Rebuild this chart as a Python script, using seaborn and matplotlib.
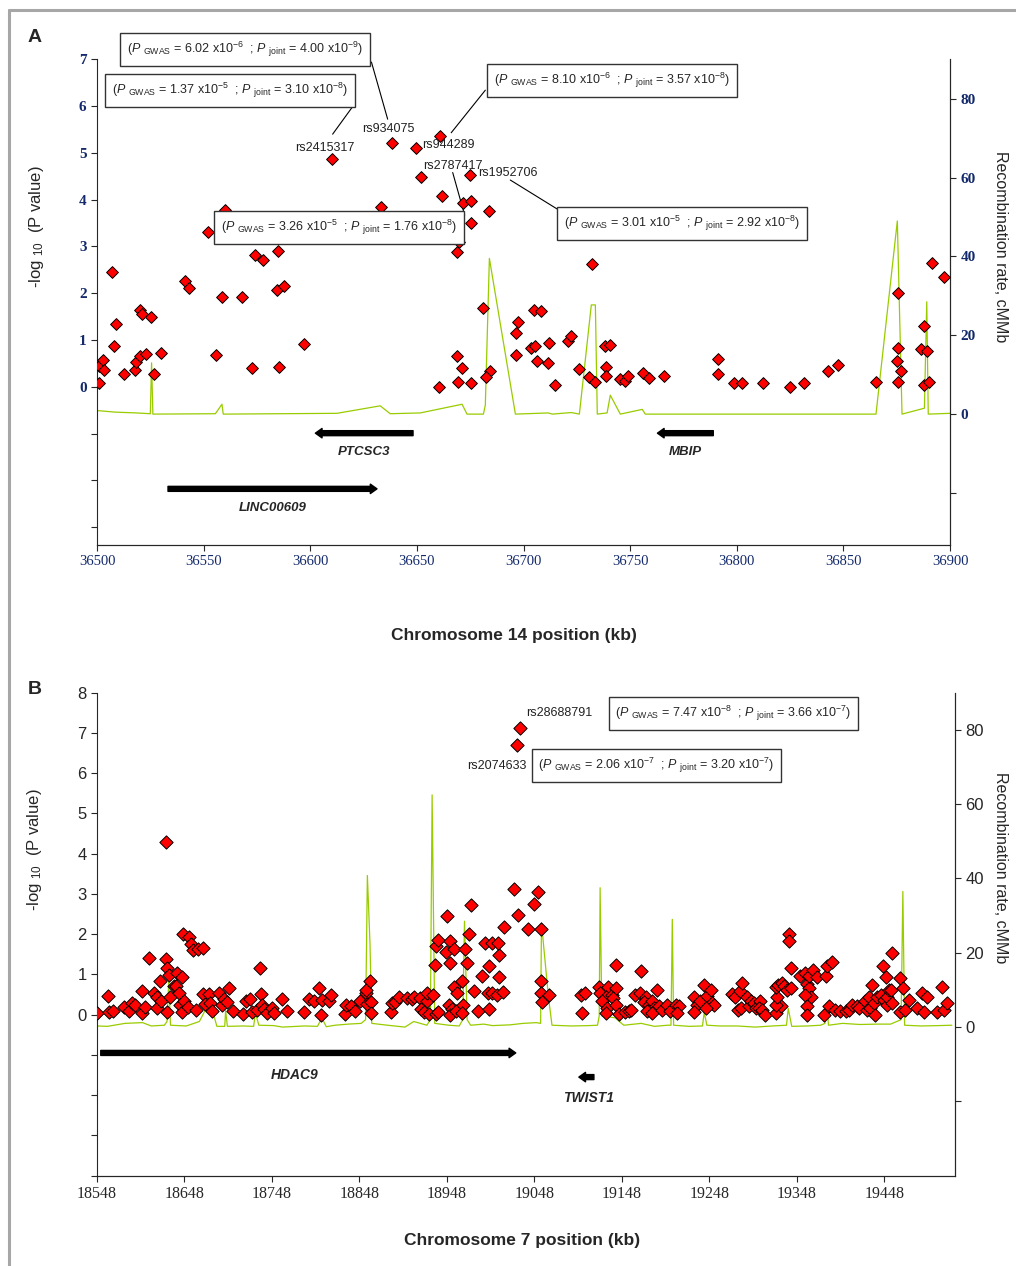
import matplotlib
matplotlib.use('Agg')
import matplotlib.pyplot as plt
import seaborn as sns
from matplotlib.lines import Line2D

sns.set_style('ticks')
plt.rcParams['font.family'] = ['Liberation Sans', 'DejaVu Sans']
plt.rcParams['mathtext.fontset'] = 'custom'
plt.rcParams['mathtext.rm'] = 'Liberation Sans'
plt.rcParams['mathtext.it'] = 'Liberation Sans:italic'
plt.rcParams['mathtext.bf'] = 'Liberation Sans:bold'

# ---------------- panel A data (chr14, kb / -log10 P) ----------------
a_pos = [36610.0, 36638.5, 36649.4, 36660.8, 36651.8, 36674.7, 36662.0, 36633.0, 36671.8, 36675.3,
         36683.9, 36675.6, 36669.8, 36668.7, 36681.2, 36559.8, 36551.9, 36574.3, 36577.9, 36584.8,
         36584.2, 36587.9, 36568.0, 36558.5, 36541.5, 36543.0, 36507.0, 36509.0, 36520.3, 36521.0,
         36525.5, 36508.1, 36500.8, 36502.7, 36503.4, 36500.9, 36512.7, 36518.0, 36518.3, 36520.0,
         36523.1, 36526.6, 36529.9, 36555.8, 36572.8, 36585.3, 36597.1, 36660.5, 36668.7, 36671.0,
         36669.3, 36675.3, 36684.3, 36682.4, 36731.9, 36696.5, 36697.2, 36696.5, 36705.1, 36708.2,
         36703.7, 36705.6, 36711.8, 36706.3, 36711.3, 36714.8, 36720.9, 36722.3, 36726.2, 36730.5,
         36733.7, 36738.0, 36740.7, 36738.8, 36738.8, 36745.4, 36747.4, 36749.0, 36755.9, 36758.7,
         36765.7, 36791.0, 36791.0, 36798.5, 36802.5, 36812.1, 36824.8, 36831.7, 36842.8, 36847.5,
         36865.3, 36875.4, 36875.4, 36875.1, 36877.1, 36875.4, 36887.6, 36886.4, 36889.2, 36887.6,
         36890.0, 36891.6, 36897.0]
a_logp = [4.86, 5.22, 5.10, 5.36, 4.49, 4.52, 4.08, 3.85, 3.92, 3.97,
          3.76, 3.50, 3.10, 2.88, 1.69, 3.79, 3.30, 2.82, 2.71, 2.90,
          2.07, 2.16, 1.93, 1.93, 2.27, 2.11, 2.45, 1.34, 1.64, 1.55,
          1.49, 0.87, 0.45, 0.57, 0.35, 0.08, 0.28, 0.36, 0.53, 0.66,
          0.70, 0.28, 0.73, 0.67, 0.41, 0.42, 0.91, 0.00, 0.65, 0.41,
          0.10, 0.08, 0.33, 0.22, 2.63, 1.15, 1.39, 0.68, 1.64, 1.63,
          0.84, 0.87, 0.94, 0.55, 0.52, 0.05, 0.98, 1.09, 0.38, 0.20,
          0.11, 0.88, 0.89, 0.42, 0.23, 0.17, 0.13, 0.23, 0.30, 0.18,
          0.24, 0.59, 0.28, 0.08, 0.08, 0.08, 0.00, 0.09, 0.33, 0.47,
          0.11, 2.01, 0.84, 0.56, 0.33, 0.10, 1.30, 0.81, 0.77, 0.05,
          0.10, 2.64, 2.34]

a_rec_pos = [36500.0, 36508.6, 36518.4, 36525.0, 36525.6, 36526.2, 36555.5, 36558.6, 36559.2, 36612.5,
             36632.8, 36637.5, 36651.6, 36671.2, 36673.5, 36681.2, 36682.1, 36684.0, 36696.2, 36711.6,
             36713.5, 36722.4, 36726.2, 36731.8, 36733.7, 36734.6, 36739.2, 36740.7, 36745.4, 36755.7,
             36757.1, 36865.3, 36875.3, 36877.5, 36888.0, 36889.1, 36889.8, 36900.0]
a_rec = [0.9, 0.5, 0.3, 0.1, 13.0, 0.0, 0.1, 2.5, 0.0, 0.2,
         2.1, 0.1, 0.3, 2.5, 0.0, 0.0, 2.3, 39.5, 0.0, 0.3,
         0.0, 0.4, 0.0, 27.7, 27.7, 0.0, 0.3, 4.8, 0.0, 1.2,
         0.0, 0.0, 49.0, 0.0, 1.5, 28.5, 0.0, 0.2]

a_xticks = [36500, 36550, 36600, 36650, 36700, 36750, 36800, 36850, 36900]
a_labels = ['(P_GWAS = 6.02 x10^-6 ; P_joint = 4.00 x10^-9)', '(P_GWAS = 1.37 x10^-5 ; P_joint = 3.10 x10^-8)',
            '(P_GWAS = 8.10 x10^-6 ; P_joint = 3.57 x10^-8)', '(P_GWAS = 3.26 x10^-5 ; P_joint = 1.76 x10^-8)',
            '(P_GWAS = 3.01 x10^-5 ; P_joint = 2.92 x10^-8)']
a_snps = ['rs934075', 'rs2415317', 'rs944289', 'rs2787417', 'rs1952706']
a_genes = ['PTCSC3', 'LINC00609', 'MBIP']
a_gene_start = [36648.2, 36533.3, 36789.0]   # tail
a_gene_end = [36602.4, 36631.3, 36762.8]     # head

# ---------------- panel B data (chr7) ----------------
b_pos = [18547.0, 18548.5, 18560.4, 18561.5, 18566.5, 18578.8, 18585.0, 18588.2, 18590.9, 18598.9,
         18599.6, 18603.4, 18607.2, 18613.0, 18616.8, 18616.8, 18619.9, 18621.3, 18627.0, 18627.4,
         18628.2, 18630.0, 18628.2, 18632.0, 18635.8, 18639.6, 18638.5, 18641.5, 18644.6, 18643.4,
         18645.3, 18647.2, 18651.8, 18646.5, 18653.7, 18655.6, 18657.9, 18663.2, 18669.0, 18661.7,
         18669.0, 18671.2, 18675.8, 18677.7, 18679.6, 18688.0, 18690.3, 18693.7, 18698.7, 18696.8,
         18703.2, 18715.0, 18718.8, 18723.4, 18725.3, 18730.3, 18734.8, 18735.6, 18736.8, 18738.7,
         18742.5, 18748.2, 18750.1, 18758.9, 18765.4, 18784.4, 18790.1, 18795.8, 18801.5, 18804.2,
         18805.3, 18812.9, 18815.6, 18832.0, 18832.8, 18838.5, 18842.3, 18848.4, 18854.9, 18856.0,
         18856.8, 18859.9, 18861.4, 18860.6, 18883.5, 18885.4, 18889.1, 18893.0, 18902.5, 18908.2,
         18910.0, 18917.0, 18918.5, 18921.6, 18925.3, 18924.6, 18927.3, 18932.2, 18934.9, 18934.1,
         18936.0, 18937.5, 18937.9, 18948.2, 18946.3, 18952.0, 18952.0, 18955.8, 18955.8, 18958.9,
         18950.1, 18954.0, 18951.4, 18957.8, 18965.4, 18966.5, 18968.4, 18970.3, 18972.9, 18974.9,
         18965.4, 18979.1, 18983.0, 18987.6, 18991.4, 18996.3, 18999.0, 18995.2, 18996.3, 18999.8,
         19005.5, 19007.4, 19007.4, 19006.3,
         19032.0, 19028.2, 19024.4, 19052.2, 19047.3, 19029.3, 19040.8, 19054.9, 19013.0, 19012.2,
         19054.9, 19054.9, 19056.8, 19064.4, 19100.6, 19105.2, 19102.5, 19121.5, 19131.8, 19140.6,
         19123.4, 19129.2, 19136.8, 19140.6, 19125.4, 19131.0, 19130.3, 19137.9, 19140.6, 19144.4,
         19150.9, 19155.8, 19158.5, 19169.9, 19163.4, 19168.4, 19174.9, 19173.0, 19178.7, 19182.5,
         19184.4, 19188.2, 19176.8, 19182.5, 19190.1, 19193.9, 19199.6, 19203.4, 19209.2, 19213.0,
         19211.1, 19230.1, 19233.9, 19237.7, 19230.1, 19241.5, 19245.4, 19249.2, 19251.1, 19253.0,
         19243.5,
         19273.9, 19277.7, 19282.7, 19285.4, 19291.1, 19280.4, 19283.5, 19293.0, 19294.9, 19298.7,
         19300.6, 19306.3, 19304.4, 19308.2, 19312.0, 19323.5, 19329.2, 19323.5, 19325.4, 19323.5,
         19326.1, 19331.1, 19333.0, 19338.7, 19338.7, 19336.8, 19340.6, 19341.4, 19352.0, 19357.7,
         19359.6, 19361.5, 19363.5, 19357.7, 19358.9, 19358.9, 19361.5, 19366.5, 19371.0, 19380.6,
         19382.5, 19388.2, 19378.7, 19384.4, 19392.0, 19397.7, 19403.5, 19407.3, 19411.1, 19416.8,
         19418.7, 19426.3, 19428.2, 19430.1, 19432.0, 19435.8, 19437.7, 19433.9, 19439.6, 19443.5,
         19447.3, 19451.1, 19451.1, 19446.5, 19450.3, 19453.0, 19456.8, 19454.9, 19456.8, 19466.3,
         19469.4, 19466.3, 19472.0, 19475.8, 19485.4, 19493.7, 19491.1, 19496.8, 19508.2, 19513.9,
         19515.8, 19519.6]
b_logp = [0.04, 0.04, 0.47, 0.06, 0.08, 0.18, 0.08, 0.29, 0.25, 0.60,
          0.04, 0.18, 1.42, 0.54, 0.45, 0.17, 0.84, 0.35, 4.28, 1.38,
          1.17, 0.99, 0.06, 0.45, 0.72, 1.03, 0.72, 0.55, 0.93, 0.25,
          0.06, 0.33, 0.18, 2.00, 1.92, 1.76, 1.61, 1.63, 1.65, 0.12,
          0.51, 0.26, 0.51, 0.29, 0.08, 0.55, 0.25, 0.39, 0.66, 0.31,
          0.10, 0.02, 0.33, 0.39, 0.06, 0.12, 1.16, 0.51, 0.25, 0.14,
          0.04, 0.17, 0.04, 0.39, 0.10, 0.06, 0.39, 0.35, 0.66, 0.00,
          0.37, 0.35, 0.50, 0.02, 0.25, 0.22, 0.10, 0.35, 0.54, 0.62,
          0.26, 0.84, 0.31, 0.04, 0.06, 0.29, 0.31, 0.45, 0.41, 0.39,
          0.45, 0.41, 0.14, 0.06, 0.35, 0.54, 0.02, 0.50, 0.02, 1.24,
          1.70, 1.86, 0.06, 2.46, 1.55, 1.82, 1.28, 1.63, 0.70, 0.55,
          0.25, 0.14, 0.00, 0.08, 0.83, 0.25, 1.63, 1.28, 2.00, 2.73,
          0.04, 0.60, 0.10, 0.95, 1.78, 1.20, 1.78, 0.54, 0.14, 0.54,
          0.50, 1.49, 0.93, 1.78,
          7.12, 6.70, 3.13, 3.06, 2.75, 2.48, 2.13, 2.14, 2.17, 0.56,
          0.83, 0.55, 0.31, 0.50, 0.50, 0.55, 0.04, 0.70, 0.70, 1.24,
          0.55, 0.45, 0.50, 0.66, 0.33, 0.17, 0.04, 0.41, 0.25, 0.02,
          0.06, 0.08, 0.12, 1.08, 0.50, 0.55, 0.45, 0.31, 0.25, 0.33,
          0.17, 0.62, 0.08, 0.04, 0.21, 0.12, 0.25, 0.08, 0.25, 0.21,
          0.04, 0.45, 0.25, 0.33, 0.06, 0.74, 0.47, 0.62, 0.29, 0.25,
          0.17,
          0.52, 0.45, 0.58, 0.80, 0.45, 0.11, 0.17, 0.21, 0.33, 0.29,
          0.17, 0.33, 0.17, 0.12, 0.00, 0.04, 0.21, 0.25, 0.45, 0.70,
          0.74, 0.79, 0.72, 2.00, 1.82, 0.62, 0.66, 1.16, 0.95, 1.03,
          0.77, 0.66, 0.45, 0.50, 0.22, 0.00, 0.95, 1.12, 0.93, 0.95,
          1.20, 1.30, 0.00, 0.21, 0.12, 0.08, 0.08, 0.12, 0.25, 0.21,
          0.17, 0.33, 0.12, 0.45, 0.17, 0.29, 0.00, 0.74, 0.45, 0.50,
          0.37, 0.25, 0.45, 1.22, 0.93, 0.62, 1.53, 0.62, 0.29, 0.91,
          0.66, 0.06, 0.12, 0.37, 0.17, 0.06, 0.54, 0.45, 0.06, 0.70,
          0.12, 0.29]

b_rec_pos = [18548, 18560, 18580, 18600, 18610, 18625, 18628, 18630, 18632, 18650,
             18665, 18677, 18685, 18694, 18695, 18697, 18715, 18727, 18729, 18733,
             18750, 18760, 18785, 18800, 18805, 18810, 18820, 18835, 18850, 18855,
             18857, 18860, 18862, 18880, 18900, 18910, 18925, 18929, 18931, 18934,
             18950, 18962, 18966, 18968, 18971, 18975, 18990, 19000, 19020, 19035,
             19050, 19055, 19056, 19064, 19068, 19090, 19110, 19120, 19122, 19123,
             19125, 19140, 19150, 19170, 19185, 19200, 19204, 19205.5, 19207, 19225,
             19240, 19242, 19245, 19260, 19280, 19300, 19320, 19336, 19338, 19342,
             19360, 19375, 19380, 19382, 19384, 19400, 19420, 19440, 19455, 19467,
             19469, 19471, 19490, 19510, 19525]
b_rec = [0.3, 0.2, 1.0, 1.2, 0.3, 0.5, 1.5, 12.5, 0.5, 0.3,
         1.5, 7.0, 0.2, 0.2, 4.5, 0.2, 0.3, 0.2, 3.8, 0.5,
         0.4, 0.0, 0.3, 0.2, 2.5, 0.1, 0.5, 0.8, 1.0, 2.0,
         40.8, 22.5, 1.0, 0.5, 0.0, 1.5, 0.5, 2.0, 62.5, 1.0,
         0.5, 0.3, 2.0, 28.5, 2.0, 0.5, 0.8, 0.4, 0.6, 1.0,
         1.2, 1.0, 28.0, 8.0, 0.5, 0.3, 0.4, 0.5, 3.0, 37.5,
         3.0, 2.5, 0.5, 1.0, 0.2, 0.5, 0.5, 29.0, 0.5, 0.2,
         0.3, 4.0, 0.5, 0.3, 0.3, 0.0, 0.3, 0.5, 5.0, 0.2,
         0.3, 0.5, 1.0, 6.5, 0.5, 1.0, 0.7, 0.8, 0.8, 2.0,
         36.5, 0.5, 0.3, 0.4, 0.5]

b_xticks = [18548, 18648, 18748, 18848, 18948, 19048, 19148, 19248, 19348, 19448]
b_labels = ['(P_GWAS = 7.47 x10^-8 ; P_joint = 3.66 x10^-7)', '(P_GWAS = 2.06 x10^-7 ; P_joint = 3.20 x10^-7)']
b_snps = ['rs28688791', 'rs2074633']
b_genes = ['HDAC9', 'TWIST1']
b_gene_start = [18552.3, 19115.9]
b_gene_end = [19026.6, 19098.7]

GREEN = '#99cc00'
NAVY = '#13296b'
W, H = 1016, 1266


def fx(x):
    return x / W


def fy(y):
    return 1 - y / H


def ptxt(s):
    # "(P_GWAS = 6.02 x10^-6 ; P_joint = 4.00 x10^-9)" -> mathtext
    left, right = s.strip('()').split(' ; ')
    out = []
    for part in (left, right):
        name, val = part.split(' = ')
        sub = name.split('_')[1]
        mant, exp = val.split('^')
        out.append(r'$P$ $_{\rm %s}$ = %s$^{%s}$' % (sub, mant, exp))
    return '(' + out[0] + '  ; ' + out[1] + ')'


def draw_panel(ax, pos, logp, rpos, rrate, size):
    ax2 = ax.twinx()
    sns.lineplot(x=rpos, y=rrate, ax=ax2, color=GREEN, linewidth=0.9, sort=False, estimator=None)
    sns.scatterplot(x=pos, y=logp, ax=ax, marker='D', s=size, color='#ff0000',
                    edgecolor='black', linewidth=0.7, zorder=3)
    ax.set_zorder(ax2.get_zorder() + 1)
    ax.patch.set_visible(False)
    for a in (ax, ax2):
        a.spines['top'].set_visible(False)
        a.set_xlabel('')
        a.set_ylabel('')
    ax2.spines['left'].set_visible(False)
    ax.tick_params(direction='out', length=4, width=0.8)
    ax2.tick_params(direction='out', length=4, width=0.8)
    return ax2


def gene_arrow(ax, x0, x1, y):
    ax.annotate('', xy=(x1, y), xytext=(x0, y),
                arrowprops=dict(arrowstyle='simple,head_length=0.6,head_width=0.85,tail_width=0.45',
                                mutation_scale=8, color='black', shrinkA=0, shrinkB=0))


fig = plt.figure(figsize=(W / 100, H / 100), dpi=100)

# ================= Panel A =================
axA = fig.add_axes([fx(97), fy(545), (950 - 97) / W, (545 - 59.3) / H])
axA2 = draw_panel(axA, a_pos, a_logp, a_rec_pos, a_rec, 36)
axA.set_xlim(36500, 36900)
axA.set_ylim(-3.38, 7.0)
axA2.set_ylim(-33.2, 90)
axA.set_xticks(a_xticks, [str(t) for t in a_xticks], fontfamily='Liberation Serif',
               fontsize=10.5, color=NAVY)
axA.set_yticks(list(range(-3, 8)), ['', '', ''] + [str(i) for i in range(8)],
               fontfamily='Liberation Serif', fontsize=11, color=NAVY, fontweight='bold')
axA2.set_yticks([-20, 0, 20, 40, 60, 80], ['', '0', '20', '40', '60', '80'],
                fontfamily='Liberation Serif', fontsize=11, color=NAVY, fontweight='bold')

box = dict(boxstyle='square,pad=0.55', fc='white', ec='#333333', lw=1.0)
# annotation boxes
axA.text(36569.4, 7.21, ptxt(a_labels[0]), fontsize=9, ha='center', va='center', bbox=box)
axA.text(36562.4, 6.33, ptxt(a_labels[1]), fontsize=9, ha='center', va='center', bbox=box)
axA.text(36741.4, 6.55, ptxt(a_labels[2]), fontsize=9, ha='center', va='center', bbox=box)
axA.text(36613.5, 3.41, ptxt(a_labels[3]), fontsize=9, ha='center', va='center', bbox=box)
axA.text(36774.5, 3.49, ptxt(a_labels[4]), fontsize=9, ha='center', va='center', bbox=box)
# SNP names
axA.text(36636.6, 5.52, a_snps[0], fontsize=9, ha='center', va='center', color='#222222')
axA.text(36606.8, 5.11, a_snps[1], fontsize=9, ha='center', va='center', color='#222222')
axA.text(36652.5, 5.17, a_snps[2], fontsize=9, ha='left', va='center', color='#222222')
axA.text(36667.1, 4.73, a_snps[3], fontsize=9, ha='center', va='center', color='#222222')
axA.text(36678.8, 4.57, a_snps[4], fontsize=9, ha='left', va='center', color='#222222')
# leader lines
for (x0, y0), (x1, y1) in [((36628.7, 6.94), (36636.3, 5.72)), ((36620.7, 6.04), (36610.5, 5.40)),
                           ((36682.1, 6.34), (36666.1, 5.43)), ((36666.8, 4.58), (36672.4, 3.67)),
                           ((36693.8, 4.42), (36715.8, 3.80))]:
    axA.plot([x0, x1], [y0, y1], color='black', lw=0.8, clip_on=False)

# genes
gene_y = [-0.99, -2.18, -0.99]
for g, s0, s1, gy in zip(a_genes, a_gene_start, a_gene_end, gene_y):
    gene_arrow(axA, s0, s1, gy)
    axA.text((s0 + s1) / 2, gy - 0.4, g, fontsize=9.5, fontweight='bold', fontstyle='italic',
             ha='center', va='center')

fig.text(fx(35), fy(37), 'A', fontsize=14, fontweight='bold', ha='center', va='center')
fig.text(fx(37), fy(227), r'-log $_{10}$  (P value)', rotation=90, fontsize=12, ha='center', va='center')
fig.text(fx(1000), fy(247), 'Recombination rate, cMMb', rotation=270, fontsize=11.5,
         ha='center', va='center')
fig.text(fx(514), fy(635), 'Chromosome 14 position (kb)', fontsize=12.5, fontweight='bold',
         ha='center', va='center')

# ================= Panel B =================
axB = fig.add_axes([fx(97), fy(1175.7), (955 - 97) / W, (1175.7 - 692.7) / H])
axB2 = draw_panel(axB, b_pos, b_logp, b_rec_pos, b_rec, 46)
axB.set_xlim(18548, 19528.6)
axB.set_ylim(-4, 8)
axB2.set_ylim(-40, 90)
axB.set_xticks(b_xticks, [str(t) for t in b_xticks], fontfamily='Liberation Serif', fontsize=11.5)
axB.set_yticks(list(range(-4, 9)), ['', '', '', ''] + [str(i) for i in range(9)], fontsize=12)
axB2.set_yticks([-20, 0, 20, 40, 60, 80], ['', '0', '20', '40', '60', '80'], fontsize=12)

axB.text(19275.4, 7.48, ptxt(b_labels[0]), fontsize=9, ha='center', va='center', bbox=box)
axB.text(19187.4, 6.20, ptxt(b_labels[1]), fontsize=9, ha='center', va='center', bbox=box)
axB.text(19114.3, 7.49, b_snps[0], fontsize=9, ha='right', va='center', color='#222222')
axB.text(19038.9, 6.18, b_snps[1], fontsize=9, ha='right', va='center', color='#222222')

gene_yb = [-0.95, -1.55]
label_yb = [-1.49, -2.08]
for g, s0, s1, gy, ly in zip(b_genes, b_gene_start, b_gene_end, gene_yb, label_yb):
    gene_arrow(axB, s0, s1, gy)
    lx = 18773.5 if g == 'HDAC9' else 19110.0
    axB.text(lx, ly, g, fontsize=10, fontweight='bold', fontstyle='italic', ha='center', va='center')

fig.text(fx(35), fy(690), 'B', fontsize=14, fontweight='bold', ha='center', va='center')
fig.text(fx(35), fy(850), r'-log $_{10}$  (P value)', rotation=90, fontsize=12, ha='center', va='center')
fig.text(fx(1000), fy(868), 'Recombination rate, cMMb', rotation=270, fontsize=11.5,
         ha='center', va='center')
fig.text(fx(522), fy(1240), 'Chromosome 7 position (kb)', fontsize=12.5, fontweight='bold',
         ha='center', va='center')

# grey frame on top and left
fig.add_artist(Line2D([fx(9), fx(9)], [fy(10), 0], color='#a6a6a6', lw=2.2))
fig.add_artist(Line2D([fx(9), 1], [fy(10), fy(10)], color='#a6a6a6', lw=2.2))

fig.savefig('out.png', dpi=100)
